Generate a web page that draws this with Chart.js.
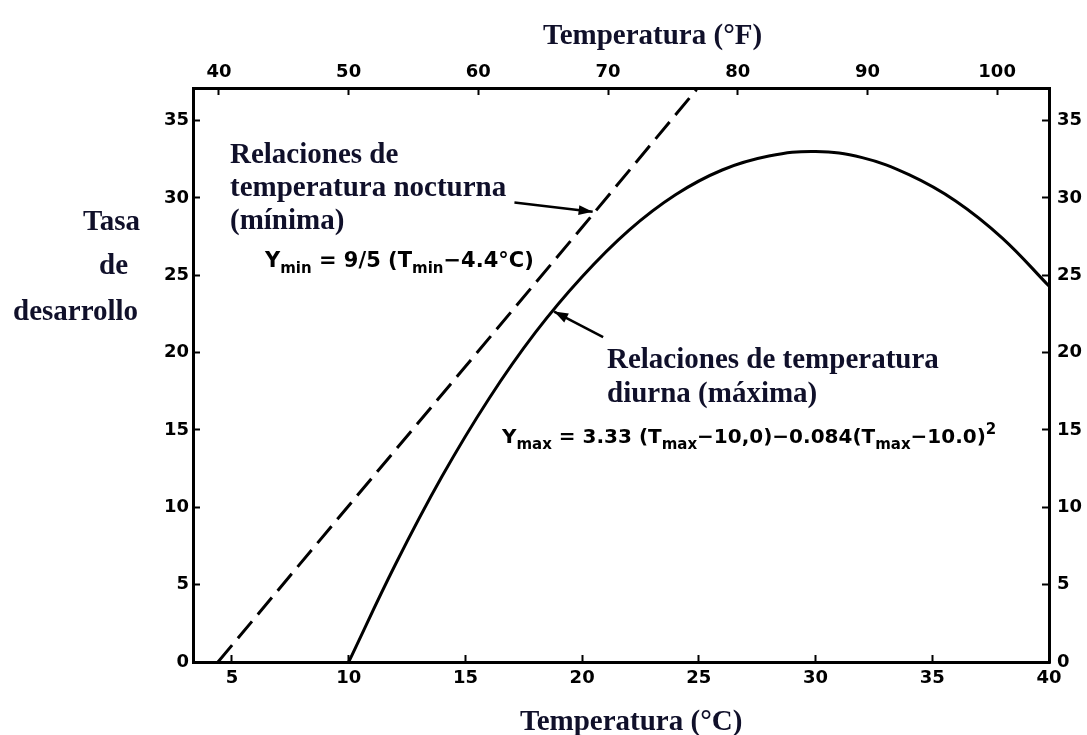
<!DOCTYPE html>
<html>
<head>
<meta charset="utf-8">
<script src="https://cdn.jsdelivr.net/npm/chart.js@4.4.1/dist/chart.umd.min.js"></script>
<style>
  html, body { margin: 0; padding: 0; background: #fff; }
  #wrap { width: 1087px; height: 735px; }
</style>
</head>
<body>
<div id="wrap"><canvas id="chart" width="1087" height="735"></canvas></div>
<script>
// values (rate of development vs temperature)
const nightTemps = [4.4, 10, 15, 20, 24.9];
const nightRates = [0, 10.1, 19.1, 28.1, 37];
const dayTemps = [10, 12, 14, 16, 18, 20, 22, 24, 26, 28, 30, 32, 34, 36, 38, 40];
const dayRates = [0, 6.3, 12.0, 17.0, 21.3, 24.9, 27.9, 30.2, 31.8, 32.7, 33.0, 32.6, 31.5, 29.8, 27.4, 24.3];

const celsiusTicks = [5, 10, 15, 20, 25, 30, 35, 40];
const fahrenheitTicks = [40, 50, 60, 70, 80, 90, 100];
const rateTicks = [0, 5, 10, 15, 20, 25, 30, 35];

const ink = "#000";
const textInk = "#10102a";
const serif = "bold 29px 'Liberation Serif', 'Times New Roman', serif";
const tickFont = { family: "'DejaVu Sans', sans-serif", size: 18, weight: "bold" };

const toPoints = (xs, ys) => xs.map((x, i) => ({ x: x, y: ys[i] }));
const setTicks = (list) => (scale) => {
  scale.ticks = list.map((v) => ({ value: v }));
};

// formula with subscripts / superscript
function drawFormula(ctx, x, y, parts, size, subSize) {
  ctx.textAlign = "left";
  ctx.textBaseline = "alphabetic";
  parts.forEach((p) => {
    const s = p.sub || p.sup ? subSize : size;
    ctx.font = "bold " + s + "px 'DejaVu Sans', sans-serif";
    const dy = p.sub ? size * 0.3 : p.sup ? -size * 0.45 : 0;
    ctx.fillText(p.t, x, y + dy);
    x += ctx.measureText(p.t).width;
  });
}

function drawArrow(ctx, chart, from, to) {
  const xs = chart.scales.x;
  const ys = chart.scales.y;
  const x1 = xs.getPixelForValue(from[0]);
  const y1 = ys.getPixelForValue(from[1]);
  const x2 = xs.getPixelForValue(to[0]);
  const y2 = ys.getPixelForValue(to[1]);
  const a = Math.atan2(y2 - y1, x2 - x1);
  ctx.strokeStyle = ink;
  ctx.fillStyle = ink;
  ctx.lineWidth = 2.5;
  ctx.beginPath();
  ctx.moveTo(x1, y1);
  ctx.lineTo(x2, y2);
  ctx.stroke();
  ctx.beginPath();
  ctx.moveTo(x2, y2);
  ctx.lineTo(x2 - 14 * Math.cos(a) + 5 * Math.sin(a), y2 - 14 * Math.sin(a) - 5 * Math.cos(a));
  ctx.lineTo(x2 - 14 * Math.cos(a) - 5 * Math.sin(a), y2 - 14 * Math.sin(a) + 5 * Math.cos(a));
  ctx.closePath();
  ctx.fill();
}

const textPlugin = {
  id: "figureText",
  afterDraw(chart) {
    const ctx = chart.ctx;
    ctx.save();
    ctx.fillStyle = textInk;
    ctx.font = serif;
    ctx.textAlign = "left";
    ctx.textBaseline = "alphabetic";

    // axis titles
    ctx.fillText("Temperatura (°F)", 543, 44);
    ctx.fillText("Temperatura (°C)", 520, 730);
    ctx.fillText("Tasa", 83, 230);
    ctx.fillText("de", 99, 274);
    ctx.fillText("desarrollo", 13, 320);

    // annotations
    ctx.fillText("Relaciones de", 230, 163);
    ctx.fillText("temperatura nocturna", 230, 196);
    ctx.fillText("(mínima)", 230, 229);
    ctx.fillText("Relaciones de temperatura", 607, 368);
    ctx.fillText("diurna (máxima)", 607, 402);

    ctx.fillStyle = ink;
    drawFormula(ctx, 265, 267, [
      { t: "Y" }, { t: "min", sub: true }, { t: " = 9/5 (T" },
      { t: "min", sub: true }, { t: "−4.4°C)" }
    ], 21, 15);
    drawFormula(ctx, 502, 443, [
      { t: "Y" }, { t: "max", sub: true }, { t: " = 3.33 (T" },
      { t: "max", sub: true }, { t: "−10,0)−0.084(T" },
      { t: "max", sub: true }, { t: "−10.0)" }, { t: "2", sup: true }
    ], 20, 15);

    drawArrow(ctx, chart, [17.1, 29.7], [20.45, 29.1]);
    drawArrow(ctx, chart, [20.9, 21.0], [18.8, 22.65]);
    ctx.restore();
  }
};

const axisBase = {
  type: "linear",
  border: { display: true, color: ink, width: 3 },
  grid: {
    display: true,
    drawOnChartArea: false,
    drawTicks: true,
    tickLength: -7,
    tickWidth: 2,
    tickColor: ink
  }
};

new Chart(document.getElementById("chart"), {
  type: "line",
  data: {
    datasets: [
      {
        label: "nocturna",
        data: toPoints(nightTemps, nightRates),
        borderColor: ink,
        borderWidth: 3,
        borderDash: [22, 9],
        pointRadius: 0,
        tension: 0,
        xAxisID: "x",
        yAxisID: "y"
      },
      {
        label: "diurna",
        data: toPoints(dayTemps, dayRates),
        borderColor: ink,
        borderWidth: 3,
        pointRadius: 0,
        tension: 0.4,
        xAxisID: "x",
        yAxisID: "y"
      }
    ]
  },
  options: {
    responsive: false,
    animation: false,
    layout: { padding: { left: 133, right: 0, top: 48, bottom: 33 } },
    plugins: {
      legend: { display: false },
      tooltip: { enabled: false }
    },
    scales: {
      x: {
        ...axisBase,
        position: "bottom",
        min: 3.33,
        max: 40,
        afterBuildTicks: setTicks(celsiusTicks),
        afterFit: (s) => { s.height = 40; },
        ticks: { color: ink, font: tickFont, padding: 13, maxRotation: 0 }
      },
      x2: {
        ...axisBase,
        position: "top",
        min: 38,
        max: 104,
        afterBuildTicks: setTicks(fahrenheitTicks),
        afterFit: (s) => { s.height = 40; },
        ticks: { color: ink, font: tickFont, padding: 12, maxRotation: 0 }
      },
      y: {
        ...axisBase,
        position: "left",
        min: 0,
        max: 37.1,
        afterBuildTicks: setTicks(rateTicks),
        afterFit: (s) => { s.width = 60; },
        ticks: { color: ink, font: tickFont, padding: 11 }
      },
      y2: {
        ...axisBase,
        position: "right",
        min: 0,
        max: 37.1,
        afterBuildTicks: setTicks(rateTicks),
        afterFit: (s) => { s.width = 38; },
        ticks: { color: ink, font: tickFont, padding: 15 }
      }
    }
  },
  plugins: [textPlugin]
});
</script>
</body>
</html>
